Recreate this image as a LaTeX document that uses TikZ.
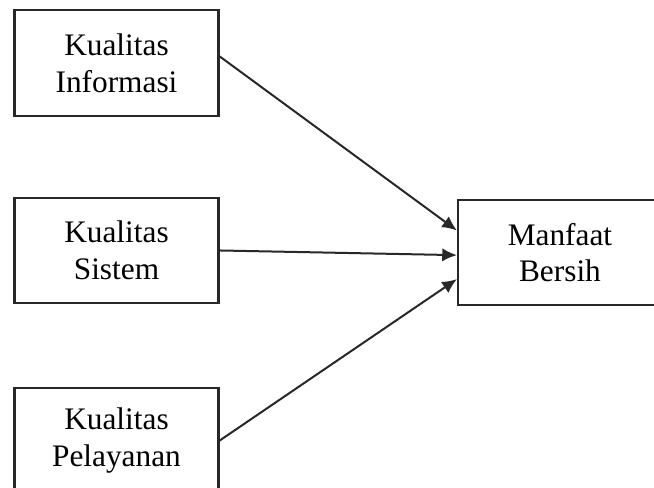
\documentclass[tikz,border=0pt]{standalone}
\usepackage{fontspec}
\setmainfont{Liberation Serif}
\usepackage{tikz}
\usetikzlibrary{arrows.meta,positioning}
\definecolor{boxline}{RGB}{40,40,40}

\begin{document}
\begin{tikzpicture}[
    x=0.75pt, y=-0.75pt,
    >={Latex[length=11pt,width=10pt]},
    node distance=60pt and 178pt,
    box/.style={
        rectangle,
        draw=boxline,
        line width=1.6pt,
        fill=white,
        minimum width=153pt,
        minimum height=79pt,
        align=center,
        font=\fontsize{23.5}{28.5}\selectfont
    },
    link/.style={->, line width=1.5pt, draw=boxline}
]
\useasboundingbox (0,0) rectangle (654,487);
\clip (0,0) rectangle (654,487);

\node[box] (info) at (116.5,63) {Kualitas\\[-1pt]Informasi};
\node[box, below=of info] (sistem) {Kualitas\\[-1pt]Sistem};
\node[box, below=62pt of sistem] (layanan) {Kualitas\\[-1pt]Pelayanan};
\node[box, right=of sistem, yshift=-1.5pt] (manfaat) {Manfaat\\[-1pt]Bersih};

\draw[link] ([yshift=5pt]info.east) -- ([yshift=16.5pt]manfaat.west);
\draw[link] (sistem.east) -- ([yshift=-2pt]manfaat.west);
\draw[link] (layanan.east) -- ([yshift=-20pt]manfaat.west);
\end{tikzpicture}
\end{document}
